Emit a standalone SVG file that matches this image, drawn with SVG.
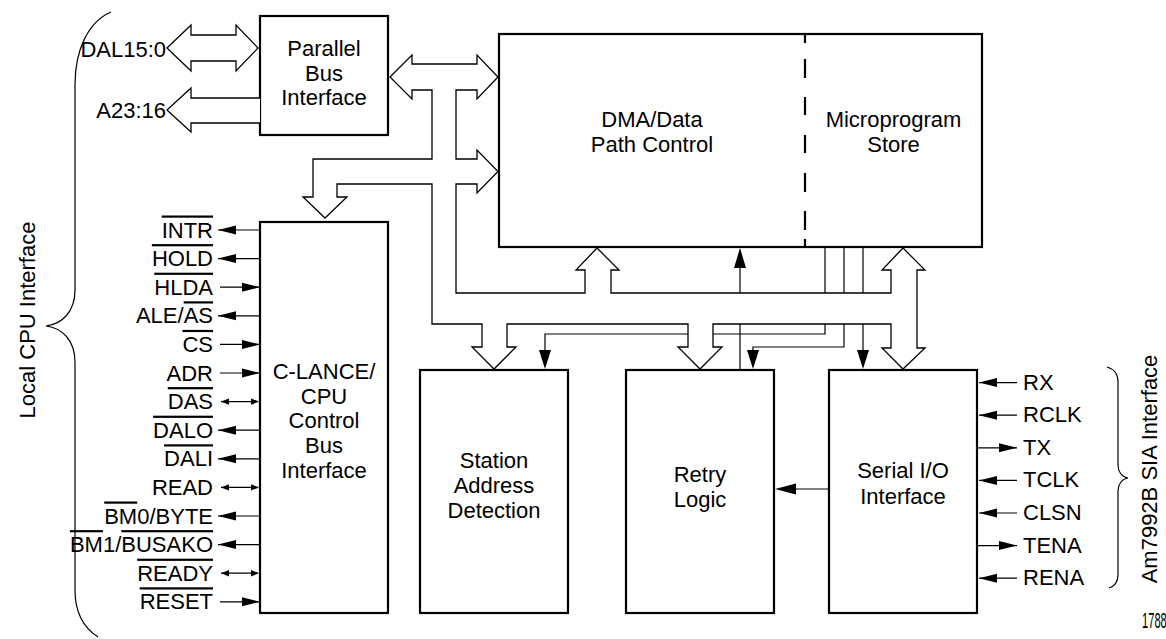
<svg xmlns="http://www.w3.org/2000/svg" width="1166" height="639" viewBox="0 0 1166 639">
<style>
text{font-family:"Liberation Sans",Arial,sans-serif;font-size:22px;fill:#000}
.c{text-anchor:middle}
.e{text-anchor:end}
.ov{text-decoration:overline}
.box{fill:#fff;stroke:#000;stroke-width:2.2}
.sig{fill:none;stroke:#000;stroke-width:1.2}
.bus{fill:#fff;stroke:#000;stroke-width:1.3;stroke-linejoin:miter}
.dash{fill:none;stroke:#000;stroke-width:2.2}
.brace{fill:none;stroke:#000;stroke-width:1.2}
</style>
<defs>
<path id="aL" d="M0,0L18,-4.5L18,4.5Z"/>
<path id="aR" d="M0,0L-18,-4.5L-18,4.5Z"/>
<path id="sL" d="M0,0L8,-3.2L8,3.2Z"/>
<path id="sR" d="M0,0L-8,-3.2L-8,3.2Z"/>
<path id="aU" d="M0,0L-6,20L6,20Z"/>
<path id="aD" d="M0,0L-6,-19L6,-19Z"/>
<path id="bL" d="M0,0L21,-5.5L21,5.5Z"/>
</defs>

<g id="pbi">
<rect class="box" x="260" y="16" width="128" height="119"/>
<text class="c" x="324" y="56">Parallel</text>
<text class="c" x="324" y="81">Bus</text>
<text class="c" x="324" y="105">Interface</text>
</g>

<g id="dma">
<rect class="box" x="499" y="34" width="483" height="213"/>
<path class="dash" d="M805,35V43M805,59V78M805,97V115M805,135V153M805,173V192M805,211V230M805,239V247"/>
<text class="c" x="652" y="127">DMA/Data</text>
<text class="c" x="652" y="152">Path Control</text>
<text class="c" x="893.5" y="127">Microprogram</text>
<text class="c" x="893.5" y="152">Store</text>
</g>

<g id="clance">
<rect class="box" x="260" y="222" width="128" height="391"/>
<text class="c" x="324" y="379">C-LANCE/</text>
<text class="c" x="324" y="404">CPU</text>
<text class="c" x="324" y="428">Control</text>
<text class="c" x="324" y="453">Bus</text>
<text class="c" x="324" y="478">Interface</text>
</g>

<g id="sad">
<rect class="box" x="420" y="370" width="148" height="243"/>
<text class="c" x="494" y="468">Station</text>
<text class="c" x="494" y="493">Address</text>
<text class="c" x="494" y="518">Detection</text>
</g>

<g id="retry">
<rect class="box" x="626" y="370" width="148" height="243"/>
<text class="c" x="700" y="482">Retry</text>
<text class="c" x="700" y="507">Logic</text>
</g>

<g id="serial">
<rect class="box" x="829" y="370" width="148" height="243"/>
<text class="c" x="903" y="478">Serial I/O</text>
<text class="c" x="903" y="504">Interface</text>
</g>

<g id="connectors">
<!-- internal signal lines (drawn under the bus) -->
<path class="sig" d="M740,266V370"/>
<use href="#aU" x="740" y="248"/>
<path class="sig" d="M825,247V334H545V352"/>
<use href="#aD" x="545" y="369"/>
<path class="sig" d="M844,247V347H753V352"/>
<use href="#aD" x="753" y="369"/>
<path class="sig" d="M863,247V352"/>
<use href="#aD" x="863" y="369"/>
<path class="sig" d="M829,489H794"/>
<use href="#bL" x="775" y="489"/>

<!-- internal hollow bus -->
<polygon class="bus" points="390,77 412,55 412,64 477,64 477,55 498,77 477,99 477,90 456,90 456,159 477,159 477,150 498,171.5 477,193 477,184 456,184 456,293 585,293 585,270 576,270 597,248 619,270 611,270 611,293 891,293 891,270 882,270 903,248 925,270 917,270 917,348 925,348 903,369 882,348 891,348 891,324 713,324 713,347 722,347 700,369 678,347 688,347 688,324 507,324 507,347 516,347 494,369 472,347 482,347 482,324 432,324 432,184 337,184 337,197 347,197 325,218 303,197 313,197 313,159 432,159 432,90 412,90 412,99"/>

<!-- external buses -->
<polygon class="bus" points="167,48 191,25 191,35 236,35 236,25 258,48 236,71 236,61 191,61 191,71"/>
<path class="bus" d="M260,98H191V88L167,110L191,132V123H260"/>

<!-- left pins -->
<path class="sig" d="M218,230H260M218,258.6H260M220,287.2H260M218,315.8H260M220,344.4H260M220,373H260M221,401.6H258M218,430.2H260M218,458.8H260M221,487.4H258M218,516H260M218,544.6H260M221,573.2H258M220,601.8H260"/>
<use href="#aL" x="218" y="230"/>
<use href="#aL" x="218" y="258.6"/>
<use href="#aR" x="260" y="287.2"/>
<use href="#aL" x="218" y="315.8"/>
<use href="#aR" x="260" y="344.4"/>
<use href="#aR" x="260" y="373"/>
<use href="#sL" x="221" y="401.6"/><use href="#sR" x="259" y="401.6"/>
<use href="#aL" x="218" y="430.2"/>
<use href="#aL" x="218" y="458.8"/>
<use href="#sL" x="221" y="487.4"/><use href="#sR" x="259" y="487.4"/>
<use href="#aL" x="218" y="516"/>
<use href="#aL" x="218" y="544.6"/>
<use href="#sL" x="221" y="573.2"/><use href="#sR" x="259" y="573.2"/>
<use href="#aR" x="260" y="601.8"/>

<!-- right pins -->
<path class="sig" d="M979,382.6H1017M979,415.2H1017M977,447.8H1017M979,480.4H1017M979,513H1017M977,545.6H1017M979,578.2H1017"/>
<use href="#aL" x="979" y="382.6"/>
<use href="#aL" x="979" y="415.2"/>
<use href="#aR" x="1017" y="447.8"/>
<use href="#aL" x="979" y="480.4"/>
<use href="#aL" x="979" y="513"/>
<use href="#aR" x="1017" y="545.6"/>
<use href="#aL" x="979" y="578.2"/>
</g>

<g id="bus-labels">
<text class="e" x="166" y="57">DAL15:0</text>
<text class="e" x="166" y="118">A23:16</text>
</g>

<g id="left-pin-labels">
<text class="e" x="213" y="237.5"><tspan class="ov">INTR</tspan></text>
<text class="e" x="213" y="266.1"><tspan class="ov">HOLD</tspan></text>
<text class="e" x="213" y="294.7"><tspan class="ov">HLDA</tspan></text>
<text class="e" x="213" y="323.3">ALE/<tspan class="ov">AS</tspan></text>
<text class="e" x="213" y="351.9"><tspan class="ov">CS</tspan></text>
<text class="e" x="213" y="380.5">ADR</text>
<text class="e" x="213" y="409.1"><tspan class="ov">DAS</tspan></text>
<text class="e" x="213" y="437.7"><tspan class="ov">DALO</tspan></text>
<text class="e" x="213" y="466.3"><tspan class="ov">DALI</tspan></text>
<text class="e" x="213" y="494.9">READ</text>
<text class="e" x="213" y="523.5"><tspan class="ov">BM</tspan>0/BYTE</text>
<text class="e" x="213" y="552.1"><tspan class="ov">BM</tspan>1/<tspan class="ov">BUSAKO</tspan></text>
<text class="e" x="213" y="580.7"><tspan class="ov">READY</tspan></text>
<text class="e" x="213" y="609.3"><tspan class="ov">RESET</tspan></text>
</g>

<g id="right-pin-labels">
<text x="1023" y="389.6">RX</text>
<text x="1023" y="422.2">RCLK</text>
<text x="1023" y="454.8">TX</text>
<text x="1023" y="487.4">TCLK</text>
<text x="1023" y="520">CLSN</text>
<text x="1023" y="552.6">TENA</text>
<text x="1023" y="585.2">RENA</text>
</g>

<g id="local-cpu-interface">
<path class="brace" d="M111,12C88,22 75,50 75,85L75,290C75,312 62,324 46,326C62,328 75,340 75,362L75,590C75,612 84,628 98,637"/>
<text class="c" font-size="21" transform="translate(35,320) rotate(-90)">Local CPU Interface</text>
</g>

<g id="sia-interface">
<path class="brace" d="M1107,367C1114,369 1118,374 1118,382L1118,465C1118,472 1122,477 1128,478C1122,479 1118,484 1118,491L1118,575C1118,582 1115,586 1109,588"/>
<text class="c" transform="translate(1157,469) rotate(-90)">Am7992B SIA Interface</text>
</g>

<text x="1142" y="628" font-size="15" textLength="31" lengthAdjust="spacingAndGlyphs">17881</text>
</svg>
